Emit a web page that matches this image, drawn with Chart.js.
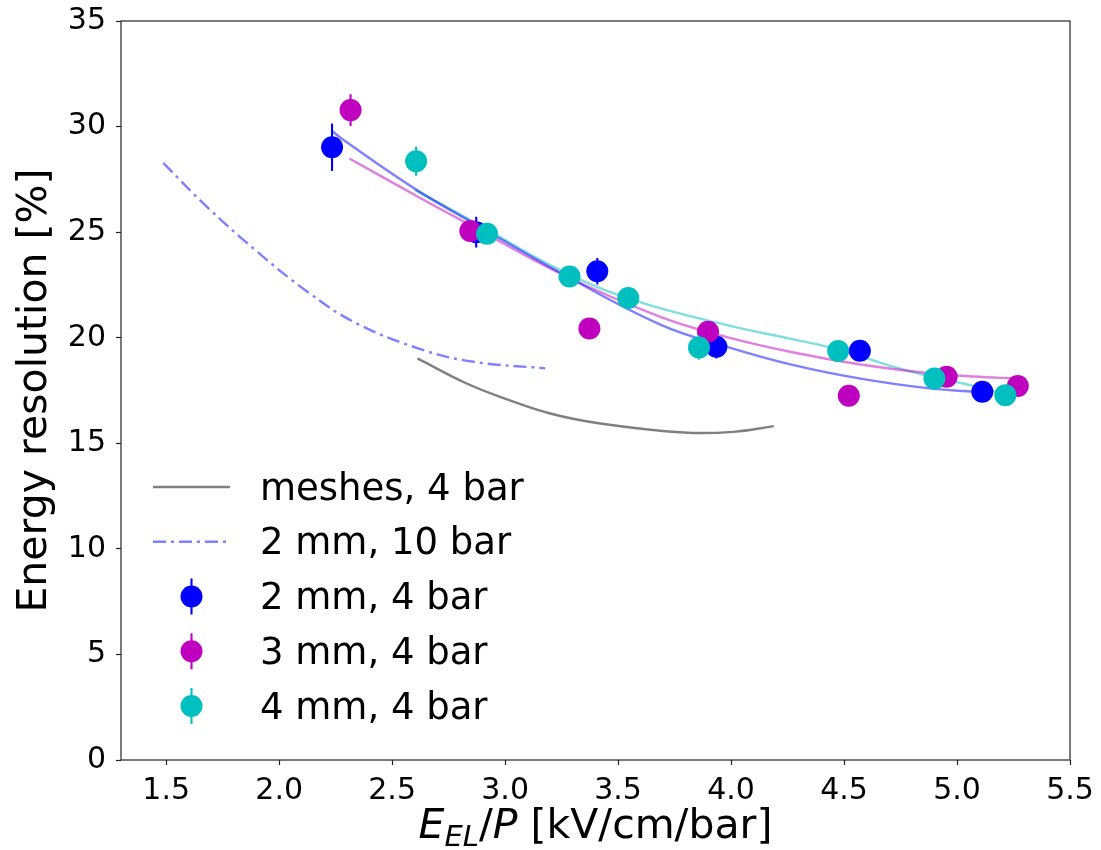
<!DOCTYPE html>
<html>
<head>
<meta charset="utf-8">
<title>Energy resolution vs reduced EL field</title>
<script src="https://cdn.jsdelivr.net/npm/chart.js@4.4.1/dist/chart.umd.min.js"></script>
<style>
  html, body { margin: 0; padding: 0; background: #fff; }
  canvas { display: block; }
</style>
</head>
<body>
<canvas id="resolutionChart" width="1101" height="850"></canvas>
<script>
// axis ticks
const xTickValues = [1.5, 2.0, 2.5, 3.0, 3.5, 4.0, 4.5, 5.0, 5.5];
const yTickValues = [0, 5, 10, 15, 20, 25, 30, 35];

const seriesLabels = ['meshes, 4 bar', '2 mm, 10 bar', '2 mm, 4 bar', '3 mm, 4 bar', '4 mm, 4 bar'];

// reference curves
const meshesX = [2.612, 2.830, 2.978, 3.200, 3.421, 3.790, 4.010, 4.189];
const meshesY = [19.02, 17.83, 17.20, 16.41, 15.94, 15.51, 15.54, 15.81];
const tenBarX = [1.487, 1.680, 1.900, 2.122, 2.344, 2.639, 2.860, 3.178];
const tenBarY = [28.28, 26.20, 24.10, 22.20, 20.67, 19.41, 18.86, 18.55];

// measurements, 4 bar
const twoMmX = [2.234, 2.872, 3.408, 3.935, 4.570, 5.112];
const twoMmY = [29.02, 25.00, 23.15, 19.57, 19.38, 17.44];
const twoMmErr = [1.12, 0.73, 0.63, 0.55, 0.40, 0.40];

const threeMmX = [2.316, 2.846, 3.373, 3.898, 4.521, 4.954, 5.269];
const threeMmY = [30.78, 25.05, 20.44, 20.28, 17.25, 18.15, 17.71];
const threeMmErr = [0.75, 0.40, 0.40, 0.40, 0.40, 0.40, 0.40];

const fourMmX = [2.606, 2.920, 3.285, 3.545, 3.858, 4.474, 4.900, 5.214];
const fourMmY = [28.36, 24.92, 22.90, 21.88, 19.54, 19.37, 18.07, 17.28];
const fourMmErr = [0.69, 0.40, 0.40, 0.40, 0.57, 0.40, 0.40, 0.40];

// fitted trends
const twoMmFitX = [2.233, 2.285, 2.610, 2.859, 3.244, 3.687, 3.982, 4.277, 4.573, 4.868, 5.075, 5.112];
const twoMmFitY = [29.80, 29.36, 26.99, 25.43, 23.08, 20.62, 19.57, 18.70, 18.06, 17.61, 17.44, 17.42];
const threeMmFitX = [2.311, 2.610, 2.860, 3.244, 3.687, 3.982, 4.277, 4.573, 4.868, 5.073, 5.267];
const threeMmFitY = [28.49, 26.70, 25.25, 23.04, 20.99, 20.03, 19.30, 18.73, 18.33, 18.16, 18.07];
const fourMmFitX = [2.602, 2.860, 3.244, 3.568, 3.982, 4.277, 4.474, 4.720, 4.868, 5.075, 5.214];
const fourMmFitY = [26.99, 25.49, 23.20, 21.78, 20.60, 19.92, 19.45, 18.62, 18.20, 17.71, 17.30];

const BLUE = '#0000ff';
const MAGENTA = '#bf00bf';
const CYAN = '#00bfbf';
const FONT = 'DejaVu Sans';

const toPoints = (xs, ys) => xs.map((x, i) => ({ x: x, y: ys[i] }));

function curve(label, xs, ys, color, dash) {
    return {
        label: label,
        data: toPoints(xs, ys),
        showLine: true,
        borderColor: color,
        borderWidth: 2.4,
        borderDash: dash || [],
        pointRadius: 0,
        tension: 0.4,
        inLegend: !!label,
        order: 10
    };
}

function markers(label, xs, ys, errs, color, order) {
    return {
        label: label,
        data: toPoints(xs, ys),
        errors: errs,
        showLine: false,
        backgroundColor: color,
        borderColor: color,
        borderWidth: 0,
        pointRadius: 11,
        pointHoverRadius: 11,
        inLegend: true,
        order: order
    };
}

// vertical error bars, drawn just before each marker set so the layering follows the series
const errorBars = {
    id: 'errorBars',
    beforeDatasetDraw(chart, args) {
        const ds = chart.data.datasets[args.index];
        if (!ds.errors) return;
        const xs = chart.scales.x, ys = chart.scales.y;
        const ctx = chart.ctx;
        ctx.save();
        ctx.strokeStyle = ds.borderColor;
        ctx.lineWidth = 2.1;
        ds.data.forEach((p, i) => {
            const px = xs.getPixelForValue(p.x);
            ctx.beginPath();
            ctx.moveTo(px, ys.getPixelForValue(p.y - ds.errors[i]));
            ctx.lineTo(px, ys.getPixelForValue(p.y + ds.errors[i]));
            ctx.stroke();
        });
        ctx.restore();
    }
};

// closed box around the plot area
const frame = {
    id: 'frame',
    afterDraw(chart) {
        const { ctx, chartArea: a } = chart;
        ctx.save();
        ctx.strokeStyle = '#222';
        ctx.lineWidth = 1.2;
        ctx.strokeRect(a.left, a.top, a.right - a.left, a.bottom - a.top);
        ctx.restore();
    }
};

// legend inside the axes, lower left
const legendBox = {
    id: 'legendBox',
    afterDraw(chart) {
        const ctx = chart.ctx;
        const entries = chart.data.datasets.filter(ds => ds.inLegend);
        const sampleLeft = 153, sampleRight = 230, textX = 260;
        const top = 487, step = 54.75;
        ctx.save();
        entries.forEach((ds, i) => {
            const y = top + i * step;
            const mid = (sampleLeft + sampleRight) / 2;
            if (ds.showLine) {
                ctx.strokeStyle = ds.borderColor;
                ctx.lineWidth = ds.borderWidth;
                ctx.setLineDash(ds.borderDash);
                ctx.beginPath();
                ctx.moveTo(sampleLeft, y);
                ctx.lineTo(sampleRight, y);
                ctx.stroke();
                ctx.setLineDash([]);
            } else {
                ctx.strokeStyle = ds.borderColor;
                ctx.lineWidth = 2.1;
                ctx.beginPath();
                ctx.moveTo(mid, y - 18);
                ctx.lineTo(mid, y + 18);
                ctx.stroke();
                ctx.fillStyle = ds.backgroundColor;
                ctx.beginPath();
                ctx.arc(mid, y, ds.pointRadius, 0, Math.PI * 2);
                ctx.fill();
            }
            ctx.fillStyle = '#000';
            ctx.font = '37px "' + FONT + '"';
            ctx.textAlign = 'left';
            ctx.textBaseline = 'middle';
            ctx.fillText(ds.label, textX, y + 3);
        });
        ctx.restore();
    }
};

// x axis title with a subscript: E_EL/P [kV/cm/bar]
const xTitle = {
    id: 'xTitle',
    afterDraw(chart) {
        const ctx = chart.ctx;
        const a = chart.chartArea;
        const size = 41, sub = 29;
        const parts = [
            { t: 'E', f: 'italic ' + size + 'px "' + FONT + '"', dy: 0 },
            { t: 'EL', f: 'italic ' + sub + 'px "' + FONT + '"', dy: 8 },
            { t: '/', f: size + 'px "' + FONT + '"', dy: 0 },
            { t: 'P', f: 'italic ' + size + 'px "' + FONT + '"', dy: 0 },
            { t: ' [kV/cm/bar]', f: size + 'px "' + FONT + '"', dy: 0 }
        ];
        ctx.save();
        let total = 0;
        parts.forEach(p => { ctx.font = p.f; p.w = ctx.measureText(p.t).width; total += p.w; });
        let x = (a.left + a.right) / 2 - total / 2;
        const baseline = 838;
        ctx.fillStyle = '#000';
        ctx.textAlign = 'left';
        ctx.textBaseline = 'alphabetic';
        parts.forEach(p => {
            ctx.font = p.f;
            ctx.fillText(p.t, x, baseline + p.dy);
            x += p.w;
        });
        ctx.restore();
    }
};

const tickGrid = {
    display: true,
    drawOnChartArea: false,
    drawTicks: true,
    tickLength: 5,
    tickColor: '#222',
    tickWidth: 1.2
};

new Chart(document.getElementById('resolutionChart'), {
    type: 'scatter',
    data: {
        datasets: [
            curve(seriesLabels[0], meshesX, meshesY, 'rgb(128,128,128)'),
            curve(seriesLabels[1], tenBarX, tenBarY, 'rgba(0,0,255,0.5)', [13, 5, 3, 5]),
            markers(seriesLabels[2], twoMmX, twoMmY, twoMmErr, BLUE, 3),
            markers(seriesLabels[3], threeMmX, threeMmY, threeMmErr, MAGENTA, 2),
            markers(seriesLabels[4], fourMmX, fourMmY, fourMmErr, CYAN, 1),
            curve(null, twoMmFitX, twoMmFitY, 'rgba(0,0,255,0.5)'),
            curve(null, threeMmFitX, threeMmFitY, 'rgba(191,0,191,0.5)'),
            curve(null, fourMmFitX, fourMmFitY, 'rgba(0,191,191,0.5)')
        ]
    },
    options: {
        responsive: false,
        animation: false,
        events: [],
        layout: { padding: { top: 21, right: 31, left: 0, bottom: 0 } },
        plugins: {
            legend: { display: false },
            tooltip: { enabled: false }
        },
        scales: {
            x: {
                type: 'linear',
                min: 1.3,
                max: 5.5,
                border: { display: false },
                grid: tickGrid,
                afterBuildTicks: scale => { scale.ticks = xTickValues.map(v => ({ value: v })); },
                afterFit: scale => {
                    scale.height = 90;
                    scale.paddingLeft = 0;
                    scale.paddingRight = 0;
                },
                ticks: {
                    color: '#000',
                    padding: 8,
                    maxRotation: 0,
                    font: { family: FONT, size: 30 },
                    callback: v => v.toFixed(1)
                }
            },
            y: {
                type: 'linear',
                min: 0,
                max: 35,
                border: { display: false },
                grid: tickGrid,
                afterBuildTicks: scale => { scale.ticks = yTickValues.map(v => ({ value: v })); },
                afterFit: scale => {
                    scale.width = 121;
                    scale.paddingTop = 0;
                    scale.paddingBottom = 0;
                },
                title: {
                    display: true,
                    text: 'Energy resolution [%]',
                    color: '#000',
                    padding: { top: 11, bottom: 0 },
                    font: { family: FONT, size: 41 }
                },
                ticks: {
                    color: '#000',
                    padding: 10,
                    font: { family: FONT, size: 30 },
                    callback: v => String(v)
                }
            }
        }
    },
    plugins: [errorBars, frame, legendBox, xTitle]
});
</script>
</body>
</html>
